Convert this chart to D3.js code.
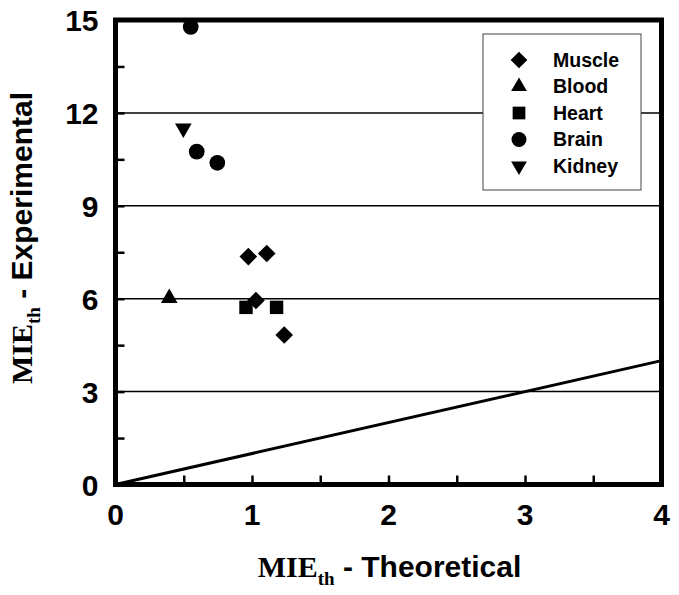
<!DOCTYPE html>
<html>
<head>
<meta charset="utf-8">
<script src="https://cdn.jsdelivr.net/npm/d3@7"></script>
<style>
  body { margin: 0; background: #fff; }
  text { font-family: "Liberation Sans", Arial, sans-serif; font-weight: bold; }
</style>
</head>
<body>
<div id="chart"></div>
<script>
// series values
const muscle = [[0.973, 7.36], [1.108, 7.46], [1.029, 5.94], [1.236, 4.83]];
const blood = [[0.394, 6.02]];
const heart = [[0.956, 5.72], [1.18, 5.72]];
const brain = [[0.551, 14.78], [0.595, 10.75], [0.746, 10.39]];
const kidney = [[0.497, 11.5]];
const xTicks = [0, 1, 2, 3, 4];
const yTicks = [0, 3, 6, 9, 12, 15];
const gridY = [3, 6, 9, 12];

const series = [
  { name: "Muscle", data: muscle, symbol: d3.symbolSquare, size: 155, rot: 45 },
  { name: "Blood", data: blood, symbol: d3.symbolTriangle, size: 120, rot: 0 },
  { name: "Heart", data: heart, symbol: d3.symbolSquare, size: 180, rot: 0 },
  { name: "Brain", data: brain, symbol: d3.symbolCircle, size: 195, rot: 0 },
  { name: "Kidney", data: kidney, symbol: d3.symbolTriangle, size: 120, rot: 180 }
];

const W = 679, H = 595;
const margin = { top: 20, right: 17.5, bottom: 110.5, left: 115.5 };
const width = W - margin.left - margin.right,
      height = H - margin.top - margin.bottom;

const svg = d3.select("#chart").append("svg")
  .attr("width", W).attr("height", H);
const g = svg.append("g")
  .attr("transform", `translate(${margin.left},${margin.top})`);

const x = d3.scaleLinear().domain([0, 4]).range([0, width]);
const y = d3.scaleLinear().domain([0, 15]).range([height, 0]);

// horizontal grid
g.selectAll(".grid").data(gridY).enter().append("line")
  .attr("x1", 0).attr("x2", width)
  .attr("y1", d => y(d)).attr("y2", d => y(d))
  .attr("stroke", "#000").attr("stroke-width", 1.5);

// y = x line
g.append("line")
  .attr("x1", x(0)).attr("y1", y(0)).attr("x2", x(4)).attr("y2", y(4))
  .attr("stroke", "#000").attr("stroke-width", 3);

// axes with inward ticks
const xAxis = g.append("g").attr("transform", `translate(0,${height})`)
  .call(d3.axisBottom(x).tickValues(d3.range(0, 4.01, 0.5)).tickSize(-9).tickFormat(""));
const yAxis = g.append("g")
  .call(d3.axisLeft(y).tickValues(d3.range(0, 15.01, 1.5)).tickSize(-9).tickFormat(""));
[xAxis, yAxis].forEach(a => {
  a.select(".domain").remove();
  a.selectAll(".tick line").attr("stroke", "#000").attr("stroke-width", 2.5);
});

// tick labels
g.selectAll(".xl").data(xTicks).enter().append("text")
  .attr("x", d => x(d)).attr("y", height + 40.5)
  .attr("text-anchor", "middle").attr("font-size", 30).text(d => d);
g.selectAll(".yl").data(yTicks).enter().append("text")
  .attr("x", -17).attr("y", d => y(d) + 11)
  .attr("text-anchor", "end").attr("font-size", 30).text(d => d);

// frame
g.append("rect").attr("width", width).attr("height", height)
  .attr("fill", "none").attr("stroke", "#000").attr("stroke-width", 5);

// legend
const lg = g.append("g").attr("transform", `translate(${483 - margin.left},${34 - margin.top})`);
lg.append("rect").attr("width", 158).attr("height", 156)
  .attr("fill", "#fff").attr("stroke", "#444").attr("stroke-width", 1);
series.forEach((s, i) => {
  const row = lg.append("g").attr("transform", `translate(0,${26 + i * 26.5})`);
  row.append("path")
    .attr("d", d3.symbol().type(s.symbol).size(s.size * 0.9)())
    .attr("transform", `translate(36,0) rotate(${s.rot})`)
    .attr("fill", "#000");
  row.append("text").attr("x", 70).attr("y", 6.5).attr("font-size", 19.5).text(s.name);
});

// points
series.forEach(s => {
  g.selectAll(null).data(s.data).enter().append("path")
    .attr("d", d3.symbol().type(s.symbol).size(s.size)())
    .attr("transform", d => `translate(${x(d[0])},${y(d[1])}) rotate(${s.rot})`)
    .attr("fill", "#000");
});

// axis titles
const serif = "'Liberation Serif', 'Times New Roman', serif";
const xt = svg.append("text").attr("x", 389.5).attr("y", 577).attr("text-anchor", "middle").attr("font-size", 30);
xt.append("tspan").attr("font-family", serif).text("MIE");
xt.append("tspan").attr("font-family", serif).attr("font-size", 19).attr("dy", 8).text("th");
xt.append("tspan").attr("dy", -8).text(" - Theoretical");

const yt = svg.append("text").attr("transform", "translate(32,238) rotate(-90)")
  .attr("text-anchor", "middle").attr("font-size", 30);
yt.append("tspan").attr("font-family", serif).text("MIE");
yt.append("tspan").attr("font-family", serif).attr("font-size", 19).attr("dy", 8).text("th");
yt.append("tspan").attr("dy", -8).text(" - Experimental");
</script>
</body>
</html>
